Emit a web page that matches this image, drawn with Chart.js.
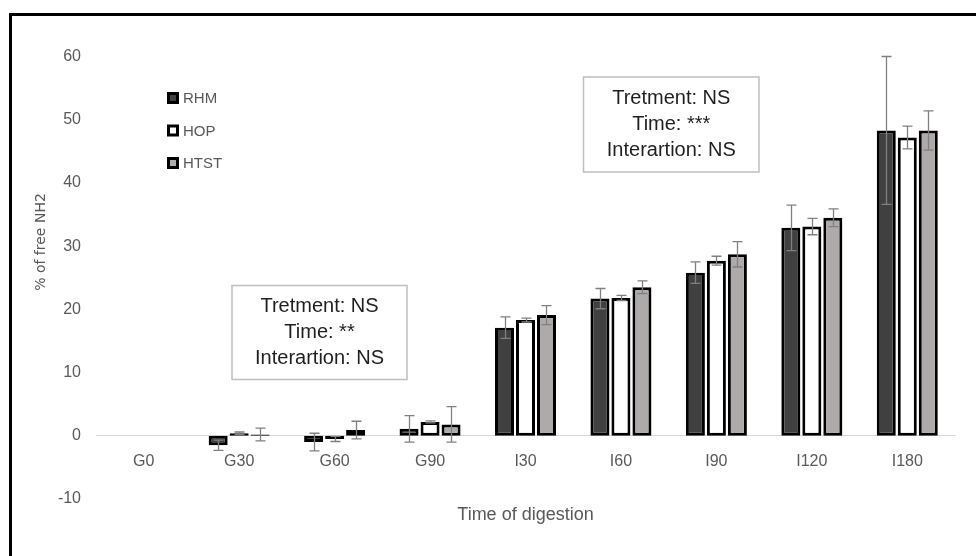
<!DOCTYPE html>
<html>
<head>
<meta charset="utf-8">
<script src="https://cdn.jsdelivr.net/npm/chart.js@4.4.1/dist/chart.umd.min.js"></script>
<style>
  html, body { margin: 0; padding: 0; background: #ffffff; }
  #wrap { width: 976px; height: 556px; position: relative; }
</style>
</head>
<body>
<div id="wrap"><canvas id="c" width="976" height="556"></canvas></div>
<script>
// Digestion time points and the three treatments
const categories = ['G0', 'G30', 'G60', 'G90', 'I30', 'I60', 'I90', 'I120', 'I180'];
const seriesNames = ['RHM', 'HOP', 'HTST'];

// Mean % of free NH2 per time point
const rhm  = [0, -1.5, -1.0, 1.1, 17.1, 21.7, 25.8, 32.9, 48.3];
const hop  = [0,  0.4, -0.5, 2.2, 18.3, 21.8, 27.7, 33.1, 47.2];
const htst = [0,  0.2,  0.9, 1.8, 19.1, 23.5, 28.7, 34.5, 48.3];

// Standard deviations (none at G0)
const rhmErr  = [null, 0.8, 1.4, 2.1,  1.7, 1.6, 1.7, 3.6, 11.7];
const hopErr  = [null, 0.2, 0.4, 0.15, 0.3, 0.4, 0.7, 1.3, 1.8];
const htstErr = [null, 1.0, 1.4, 2.8,  1.5, 1.0, 2.0, 1.4, 3.1];

const yTicks = [-10, 0, 10, 20, 30, 40, 50, 60];

// Two-way ANOVA summaries
const statsGastric = ['Tretment: NS', 'Time: **', 'Interartion: NS'];
const statsIntestinal = ['Tretment: NS', 'Time: ***', 'Interartion: NS'];

const FONT = "'Liberation Sans', Arial, sans-serif";
const GREY_TEXT = '#595959';

// Outer frame of the figure
const framePlugin = {
  id: 'frame',
  beforeDraw(chart) {
    const ctx = chart.ctx;
    ctx.save();
    ctx.fillStyle = '#ffffff';
    ctx.fillRect(0, 0, chart.width, chart.height);
    ctx.strokeStyle = '#000000';
    ctx.lineWidth = 3;
    ctx.beginPath();
    ctx.moveTo(10.5, chart.height + 2);
    ctx.lineTo(10.5, 14.5);
    ctx.lineTo(chart.width + 2, 14.5);
    ctx.stroke();
    ctx.restore();
  }
};

// Symmetric error bars with caps
const errorBarPlugin = {
  id: 'errorBars',
  afterDatasetsDraw(chart) {
    const ctx = chart.ctx;
    const ys = chart.scales.y;
    ctx.save();
    ctx.strokeStyle = '#808080';
    ctx.lineWidth = 1.3;
    chart.data.datasets.forEach((ds, i) => {
      const meta = chart.getDatasetMeta(i);
      meta.data.forEach((bar, j) => {
        const e = ds.errors[j];
        if (e == null) return;
        const v = ds.data[j];
        const top = ys.getPixelForValue(v + e);
        const bot = ys.getPixelForValue(v - e);
        const x = Math.round(bar.x) + 0.5;
        ctx.beginPath();
        ctx.moveTo(x, top); ctx.lineTo(x, bot);
        ctx.moveTo(x - 5, top); ctx.lineTo(x + 5, top);
        ctx.moveTo(x - 5, bot); ctx.lineTo(x + 5, bot);
        ctx.stroke();
      });
    });
    ctx.restore();
  }
};

// Legend drawn inside the plot, top-left
const legendPlugin = {
  id: 'insideLegend',
  afterDraw(chart) {
    const ctx = chart.ctx;
    ctx.save();
    ctx.font = '15px ' + FONT;
    ctx.textBaseline = 'middle';
    ctx.textAlign = 'left';
    chart.data.datasets.forEach((ds, i) => {
      const y = 98 + i * 32.5;
      ctx.fillStyle = '#000000';
      ctx.fillRect(167, y - 6, 12, 12);
      ctx.fillStyle = ds.backgroundColor;
      ctx.fillRect(170, y - 3, 6, 6);
      ctx.fillStyle = GREY_TEXT;
      ctx.fillText(ds.label, 183, y + 1);
    });
    ctx.restore();
  }
};

// Statistics text boxes
const statBoxes = [
  { x: 232, y: 285.5, w: 175, h: 94, lines: statsGastric },
  { x: 583.5, y: 77, w: 175.5, h: 95, lines: statsIntestinal }
];
const statsPlugin = {
  id: 'statBoxes',
  afterDraw(chart) {
    const ctx = chart.ctx;
    ctx.save();
    statBoxes.forEach(b => {
      ctx.fillStyle = '#ffffff';
      ctx.fillRect(b.x, b.y, b.w, b.h);
      ctx.strokeStyle = '#bfbfbf';
      ctx.lineWidth = 1.5;
      ctx.strokeRect(b.x, b.y, b.w, b.h);
      ctx.fillStyle = '#1f1f1f';
      ctx.font = '20px ' + FONT;
      ctx.textAlign = 'center';
      ctx.textBaseline = 'middle';
      b.lines.forEach((t, k) => {
        ctx.fillText(t, b.x + b.w / 2, b.y + 21 + k * 26);
      });
    });
    ctx.restore();
  }
};

// Vertical axis title
const yTitlePlugin = {
  id: 'yTitle',
  afterDraw(chart) {
    const ctx = chart.ctx;
    ctx.save();
    ctx.translate(41, 242);
    ctx.rotate(-Math.PI / 2);
    ctx.font = "14px 'DejaVu Sans', Verdana, sans-serif";
    ctx.fillStyle = GREY_TEXT;
    ctx.textAlign = 'center';
    ctx.textBaseline = 'middle';
    ctx.fillText('% of free NH2', 0, 0);
    ctx.restore();
  }
};

const fills = ['#404040', '#ffffff', '#aeaaaa'];
const values = [rhm, hop, htst];
const errors = [rhmErr, hopErr, htstErr];

new Chart(document.getElementById('c').getContext('2d'), {
  type: 'bar',
  data: {
    labels: categories,
    datasets: seriesNames.map((name, i) => ({
      label: name,
      data: values[i],
      errors: errors[i],
      backgroundColor: fills[i],
      borderColor: '#000000',
      borderWidth: 3,
      borderSkipped: false,
      categoryPercentage: 0.66,
      barPercentage: 0.905
    }))
  },
  options: {
    responsive: false,
    animation: false,
    devicePixelRatio: 1,
    layout: { padding: { left: 0, top: 56.5, right: 21, bottom: 57 } },
    plugins: {
      legend: { display: false },
      tooltip: { enabled: false },
      title: { display: false }
    },
    scales: {
      x: {
        position: { y: 0 },
        grid: { display: false, drawTicks: false },
        border: { display: true, color: '#d9d9d9', width: 1 },
        ticks: { padding: 16, color: GREY_TEXT, font: { family: FONT, size: 16 } },
        title: {
          display: true,
          text: 'Time of digestion',
          color: GREY_TEXT,
          font: { family: FONT, size: 18 },
          padding: { top: 0, bottom: -31 }
        },
        afterFit: s => { s.height = 59; }
      },
      y: {
        min: -10,
        max: 60,
        afterBuildTicks: s => { s.ticks = yTicks.map(v => ({ value: v })); },
        grid: { display: false, drawTicks: false },
        border: { display: false },
        ticks: { padding: 15, color: GREY_TEXT, font: { family: FONT, size: 16 } },
        afterFit: s => { s.width = 96; }
      }
    }
  },
  plugins: [framePlugin, errorBarPlugin, legendPlugin, statsPlugin, yTitlePlugin]
});
</script>
</body>
</html>
